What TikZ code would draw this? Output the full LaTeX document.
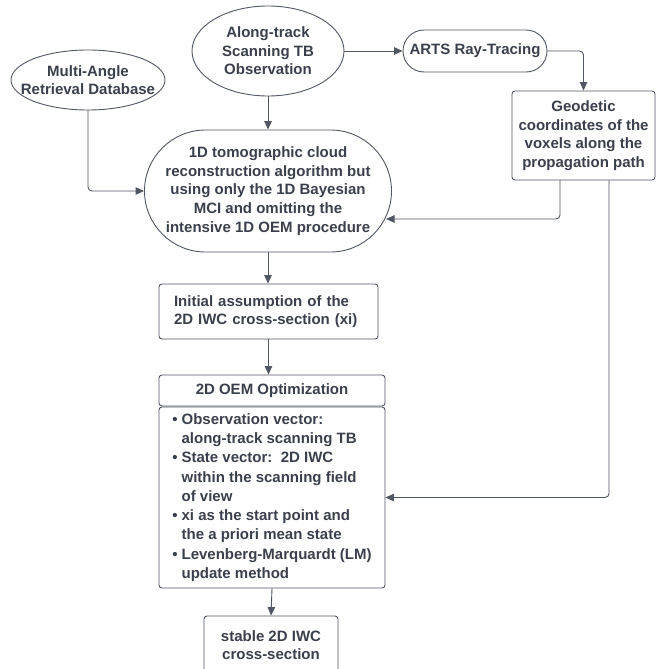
\documentclass[tikz,border=0pt]{standalone}
\usepackage{fontspec}
\setmainfont{Liberation Sans}
\usetikzlibrary{shapes.geometric,arrows.meta}

\definecolor{ink}{HTML}{3A404B}
\definecolor{linecol}{HTML}{505662}

\begin{document}
\begin{tikzpicture}
		[x=1pt,y=-1pt,line cap=round,
		%Styles
		base/.style={draw=linecol,line width=0.9pt,text=ink,inner sep=0pt,align=center,
			font=\bfseries\fontsize{15}{18.6}\selectfont},
		oval/.style={base,ellipse,inner xsep=-20pt},
		pill/.style={base,rectangle,rounded corners=#1},
		box/.style={base,rectangle,rounded corners=3pt},
		flow/.style={draw=linecol,line width=0.9pt,rounded corners=4pt,
			-{Triangle[length=8.5pt,width=7.5pt]}}
		]
		\useasboundingbox (0,0) rectangle (659,669);
		
		%The graphic
		\node[oval,minimum width=154,minimum height=60] (db) at (88,80)
			{Multi-Angle\\Retrieval Database};
		\node[oval,minimum width=152,minimum height=90] (obs) at (268,51)
			{Along-track\\Scanning TB\\Observation};
		\node[pill=21pt,minimum width=144,minimum height=42] (arts) at (475,51)
			{ARTS Ray-Tracing};
		\node[box,minimum width=143,minimum height=89] (geo) at (583.5,135.5)
			{Geodetic\\coordinates of the\\voxels along the\\propagation path};
		\node[pill=61pt,minimum width=247,minimum height=122] (algo) at (268,191)
			{1D tomographic cloud\\reconstruction algorithm but\\using only the 1D Bayesian\\MCI and omitting the\\intensive 1D OEM procedure};
		\coordinate (algoin) at (386,219);
		\node[box,minimum width=219,minimum height=55,text width=189,inner xsep=15pt,align=left] (init) at (268.5,311.5)
			{Initial assumption of the\\2D IWC cross-section (xi)};
		\node[box,minimum width=226,minimum height=31] (oemh) at (272,390.5)
			{2D OEM Optimization};
		\node[box,minimum width=226,minimum height=181,font=\bfseries\fontsize{15}{19.25}\selectfont] (oemb) at (272,497.5)
			{\begin{tabular}{@{}l@{\hspace{4pt}}l@{}}
				\textbullet & Observation vector:\\
				 & along-track scanning TB\\
				\textbullet & State vector:\ \ 2D IWC\\
				 & within the scanning field\\
				 & of view\\
				\textbullet & xi as the start point and\\
				 & the a priori mean state\\
				\textbullet & Levenberg-Marquardt (LM)\\
				 & update method
			\end{tabular}};
		\node[box,minimum width=134,minimum height=58] (res) at (271,645)
			{stable 2D IWC\\cross-section};
		
		\draw[flow] (obs.east |- arts.west) -- (arts.west);
		\draw[flow] (arts.east) -| (geo.north);
		\draw[flow] (db.south) |- (algo.west);
		\draw[flow] (obs.south) -- (algo.north);
		\draw[flow] ([xshift=-23.5pt]geo.south) |- (algoin);
		\draw[flow] ([xshift=25.5pt]geo.south) |- (oemb.east);
		\draw[flow] (algo.south) -- (algo.south |- init.north);
		\draw[flow] (init.south) -- (init.south |- oemh.north);
		\draw[flow] (oemb.south) -- (res.north);
	\end{tikzpicture}
\end{document}
